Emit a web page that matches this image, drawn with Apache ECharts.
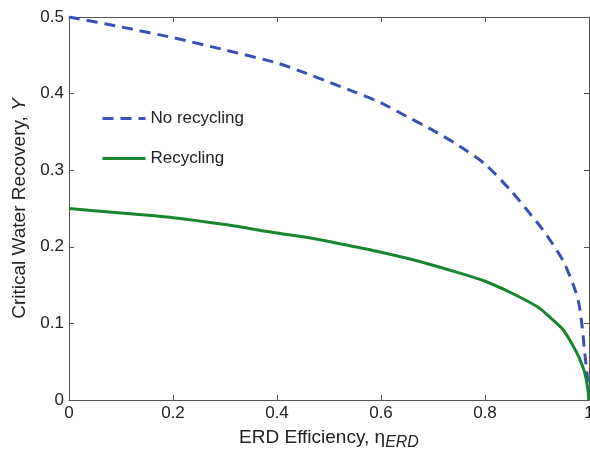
<!DOCTYPE html>
<html>
<head>
<meta charset="utf-8">
<script src="https://cdn.jsdelivr.net/npm/echarts@6/dist/echarts.min.js"></script>
<style>
  html, body { margin: 0; padding: 0; background: #fff; }
  #chart { width: 590px; height: 453px; }
</style>
</head>
<body>
<div id="chart"></div>
<script>
// values
const eta = [0, 0.1, 0.2, 0.3, 0.4, 0.45, 0.5, 0.55, 0.6, 0.65, 0.7, 0.75, 0.8, 0.85, 0.9, 0.92, 0.95, 0.97, 0.98, 0.987, 0.992, 0.997, 1]
const noRecycling = [0.5, 0.487, 0.473, 0.457, 0.44, 0.428, 0.415, 0.402, 0.388, 0.37, 0.352, 0.332, 0.308, 0.273, 0.232, 0.214, 0.182, 0.15, 0.128, 0.095, 0.06, 0.03, 0]
const recycling = [0.25, 0.244, 0.238, 0.229, 0.218, 0.213, 0.207, 0.2, 0.193, 0.185, 0.176, 0.166, 0.155, 0.14, 0.122, 0.111, 0.092, 0.07, 0.057, 0.045, 0.035, 0.018, 0]
const xTicks = [0, 0.2, 0.4, 0.6, 0.8, 1]
const yTicks = [0, 0.1, 0.2, 0.3, 0.4, 0.5]

const chart = echarts.init(document.getElementById('chart'))
const font = 'Liberation Sans, Arial, sans-serif'
const border = '#555'

const fmt = v => (v === 0 ? '0' : String(+v.toFixed(1)))

// plain frame axis: line + inward ticks, no labels
const frameAxis = (extra) => Object.assign({
  type: 'value',
  axisLine: { show: true, onZero: false, lineStyle: { color: border, width: 1 } },
  axisTick: { inside: true, length: 5, lineStyle: { color: border } },
  axisLabel: { show: false },
  splitLine: { show: false },
}, extra)

const option = {
  animation: false,
  textStyle: { fontFamily: font },
  grid: { left: 69, right: 1, top: 17, bottom: 53, outerBoundsMode: 'none', containLabel: false },
  legend: {
    orient: 'vertical',
    left: 96,
    top: 105,
    itemWidth: 43,
    itemHeight: 20,
    itemGap: 23,
    itemStyle: { opacity: 0 },
    lineStyle: { width: 3 },
    textStyle: { fontSize: 17, color: '#222', fontFamily: font },
    data: ['No recycling', 'Recycling'],
  },
  xAxis: [
    frameAxis({
      min: 0,
      max: 1,
      interval: 0.2,
      name: 'ERD Efficiency, η{sub|ERD}',
      nameLocation: 'middle',
      nameGap: 25,
      nameTextStyle: {
        fontSize: 19,
        color: '#222',
        rich: { sub: { fontSize: 16, fontStyle: 'italic', color: '#222', padding: [10, 0, 0, 0] } },
      },
      axisLabel: { show: true, fontSize: 17, color: '#222', margin: 5, formatter: fmt },
    }),
    frameAxis({ position: 'top', min: 0, max: 1, interval: 0.2 }),
  ],
  yAxis: [
    frameAxis({
      min: 0,
      max: 0.5,
      interval: 0.1,
      name: 'Critical Water Recovery, {it|Y}',
      nameLocation: 'middle',
      nameGap: 39,
      nameRotate: 90,
      nameTextStyle: {
        fontSize: 19,
        color: '#222',
        rich: { it: { fontSize: 19, fontStyle: 'italic', color: '#222' } },
      },
      axisLabel: { show: true, fontSize: 17, color: '#222', margin: 5, formatter: fmt },
    }),
    frameAxis({ position: 'right', min: 0, max: 0.5, interval: 0.1 }),
  ],
  series: [
    {
      name: 'No recycling',
      type: 'line',
      symbol: 'none',
      smooth: 0.25,
      data: eta.map((x, i) => [x, noRecycling[i]]),
      lineStyle: { color: '#3a50b4', width: 3, type: [11, 7] },
      itemStyle: { color: '#3a50b4' },
    },
    {
      name: 'Recycling',
      type: 'line',
      symbol: 'none',
      smooth: 0.25,
      data: eta.map((x, i) => [x, recycling[i]]),
      lineStyle: { color: '#17872f', width: 3 },
      itemStyle: { color: '#17872f' },
    },
  ],
}

option && chart.setOption(option)
</script>
</body>
</html>
